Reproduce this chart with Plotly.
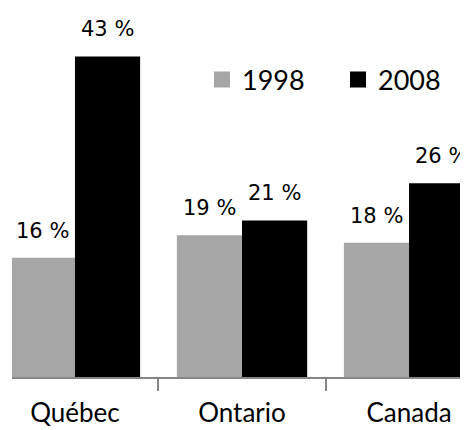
import plotly.graph_objects as go

categories = ["Québec", "Ontario", "Canada"]
values_1998 = [16, 19, 18]
values_2008 = [43, 21, 26]
series_names = ["1998", "2008"]
colors = ["#a6a6a6", "#000000"]

FONT = "Lato"
fig = go.Figure()

for name, vals, col in zip(series_names, [values_1998, values_2008], colors):
    fig.add_trace(go.Bar(x=categories, y=vals, name=name, marker_color=col,
                         marker_line_width=0, showlegend=False))
    # legend proxy
    fig.add_trace(go.Scatter(x=[None], y=[None], mode="markers", name=name,
                             marker=dict(symbol="square", size=19, color=col)))

bargap = 0.22
bw = (1 - bargap) / 2
annotations = []
for k, vals in enumerate([values_1998, values_2008]):
    off = -bw / 2 if k == 0 else bw / 2
    for i, v in enumerate(vals):
        annotations.append(dict(x=i + off, y=v, xref="x", yref="y",
                                text=f"{v} %", showarrow=False,
                                yanchor="middle", yshift=27,
                                font=dict(family="DejaVu Sans", size=21, color="#000")))

fig.update_layout(
    width=460, height=422,
    margin=dict(l=4, r=0, t=0, b=53, autoexpand=False),
    paper_bgcolor="white", plot_bgcolor="white",
    barmode="group", bargap=bargap, bargroupgap=0,
    showlegend=True,
    legend=dict(orientation="h", x=(202 - 12) / 456, xanchor="left",
                y=1 - 72 / 369, yanchor="middle",
                font=dict(family=FONT, size=27, color="#000"),
                itemsizing="trace", entrywidth=91,
                bgcolor="rgba(0,0,0,0)"),
    annotations=annotations,
    xaxis=dict(type="category", range=[-0.377, 2.353], automargin=False,
               showline=True, linecolor="#868686", linewidth=2,
               ticks="outside", tickson="boundaries", ticklen=12,
               tickwidth=2, tickcolor="#868686", ticklabelstandoff=12,
               tickfont=dict(family=FONT, size=26, color="#000"),
               showgrid=False, zeroline=False),
    yaxis=dict(range=[0, 49.5], visible=False, showgrid=False, zeroline=False,
               automargin=False),
)

fig.write_html("out.html")
